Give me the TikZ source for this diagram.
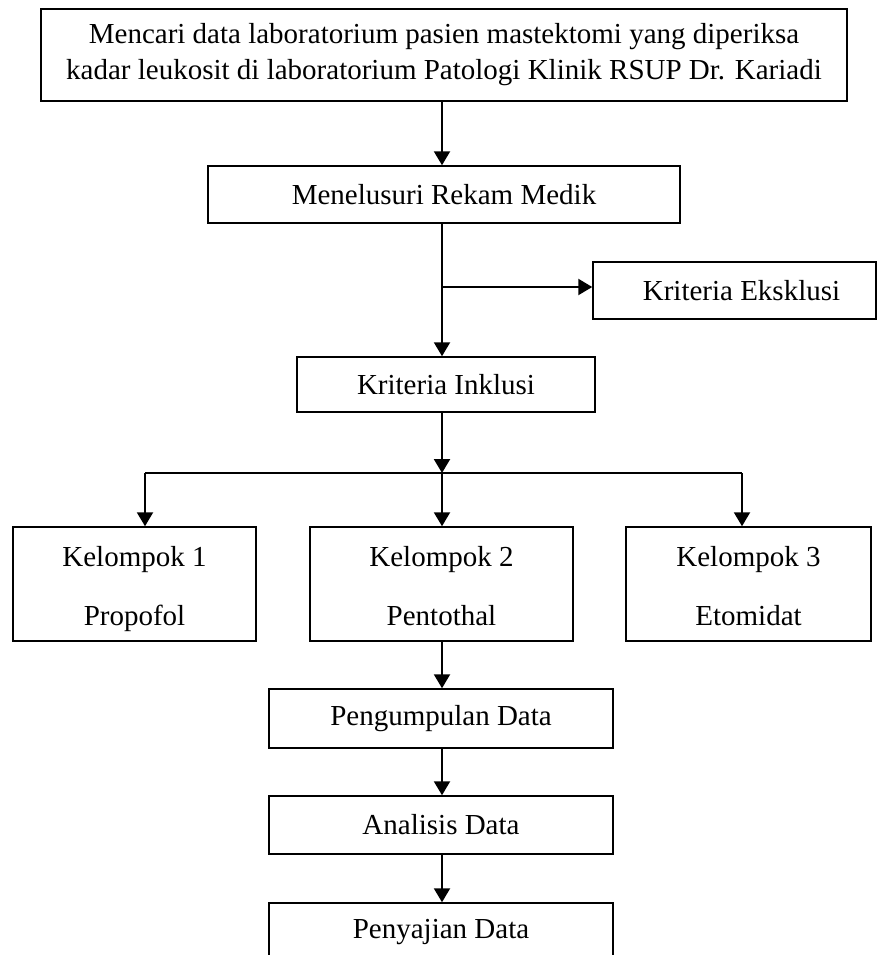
\documentclass[tikz,border=0pt]{standalone}
\usepackage{fontspec}
\setmainfont{Liberation Serif}
\usetikzlibrary{arrows.meta}
\newcommand{\twoline}[2]{\rule{0pt}{23pt}#1\\[23pt]\smash{#2}}
\begin{document}
\begin{tikzpicture}[x=1pt,y=-1pt,
  box/.style={draw, line width=1.5pt, inner sep=0pt, font=\fontsize{29}{36}\selectfont, align=center},
  arr/.style={line width=2.2pt, -{Triangle[length=14pt,width=16pt]}},
  ln/.style={line width=2.2pt}]
\useasboundingbox (0,0) rectangle (876,955);
\coordinate (c1) at (442,0);
\node[box, minimum width=806pt, minimum height=92pt] (top) at (444,55)
  {Mencari data laboratorium pasien mastektomi yang diperiksa\\kadar leukosit di laboratorium Patologi Klinik RSUP Dr. Kariadi};
\node[box, minimum width=472pt, minimum height=57pt] (men) at (444,194.5) {Menelusuri Rekam Medik};
\node[box, minimum width=283pt, minimum height=57pt] (eks) at (734.5,290.5) {\hspace*{14pt}Kriteria Eksklusi};
\node[box, minimum width=298pt, minimum height=55pt] (ink) at (446,384.5) {Kriteria Inklusi};
\node[box, minimum width=243pt, minimum height=114pt] (k1) at (134.5,584) {\twoline{Kelompok 1}{Propofol}};
\node[box, minimum width=263pt, minimum height=114pt] (k2) at (441.5,584) {\twoline{Kelompok 2}{Pentothal}};
\node[box, minimum width=245pt, minimum height=114pt] (k3) at (748.5,584) {\twoline{Kelompok 3}{Etomidat}};
\node[box, minimum width=344pt, minimum height=59pt] (peng) at (441,718.5) {Pengumpulan Data};
\node[box, minimum width=344pt, minimum height=58pt] (ana) at (441,825) {Analisis Data};
\node[box, minimum width=344pt, minimum height=59pt] (peny) at (441,932.5) {Penyajian Data};
\coordinate (br) at (442,287);
\coordinate (sp) at (442,473);
\coordinate (sL) at (145,473);
\coordinate (sR) at (742,473);
\draw[arr] (top.south -| c1) -- (men.north -| c1);
\draw[arr] (men.south -| c1) -- (ink.north -| c1);
\draw[arr] (br) -- (br -| eks.west);
\draw[arr] (ink.south -| c1) -- (sp);
\draw[ln] (sL) -- (sR);
\draw[arr] (sL) -- (sL |- k1.north);
\draw[arr] (sp) -- (sp |- k2.north);
\draw[arr] (sR) -- (sR |- k3.north);
\draw[arr] (k2.south -| c1) -- (peng.north -| c1);
\draw[arr] (peng.south -| c1) -- (ana.north -| c1);
\draw[arr] (ana.south -| c1) -- (peny.north -| c1);
\end{tikzpicture}
\end{document}
